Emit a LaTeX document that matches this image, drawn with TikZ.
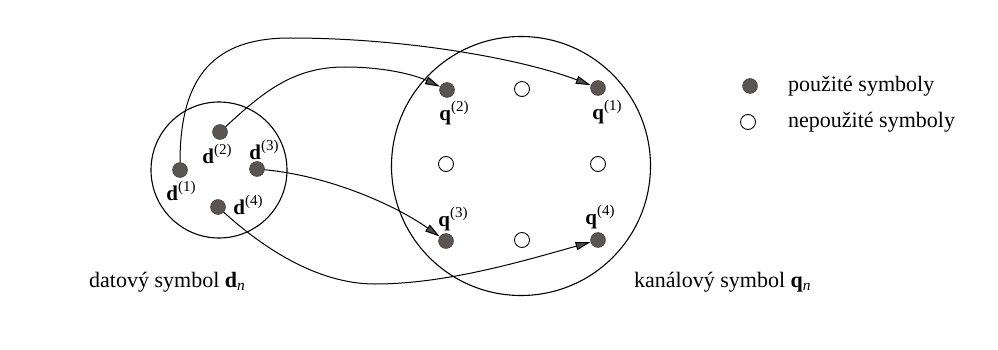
\documentclass[tikz,border=0pt]{standalone}
\usepackage{fontspec}
\setmainfont{Liberation Serif}
\usetikzlibrary{arrows.meta}
\definecolor{dotgray}{HTML}{5A5550}
\newcommand{\symlab}[2]{\textbf{#1}\raisebox{0.42em}{\fontsize{15}{15}\selectfont(#2)}}
\begin{document}
\begin{tikzpicture}[x=1pt,y=-1pt,
  usedot/.style={circle,fill=dotgray,draw=black!80,line width=0.4pt,minimum size=15pt,inner sep=0pt},
  freedot/.style={circle,draw=black,line width=0.9pt,fill=white,minimum size=15pt,inner sep=0pt},
  region/.style={circle,draw=black,line width=1.1pt,inner sep=0pt},
  conn/.style={line width=1pt,-{Triangle[length=15pt,width=8pt,fill=black!70]}},
  lab/.style={font=\fontsize{21}{23}\selectfont,inner sep=0pt},
  txt/.style={font=\fontsize{22}{26}\selectfont,inner sep=0pt,anchor=west}]
\useasboundingbox[fill=white] (0,0) rectangle (998,350);
% regions
\node[region,minimum size=136pt] (L) at (219,170) {};
\node[region,minimum size=259pt] (R) at (521,166) {};
% data symbols
\node[usedot] (d1) at (180,170) {};
\node[usedot] (d2) at (220,132) {};
\node[usedot] (d3) at (257,169) {};
\node[usedot] (d4) at (218,207) {};
% channel symbols
\node[usedot] (q2) at (447,90) {};
\node[freedot] (f1) at (522,89) {};
\node[usedot] (q1) at (598,88) {};
\node[freedot] (f2) at (446,164) {};
\node[freedot] (f3) at (598,164) {};
\node[usedot] (q3) at (446,241) {};
\node[freedot] (f4) at (522,240) {};
\node[usedot] (q4) at (598,240) {};
% labels
\node[lab] (ld1) at (181,191) {\symlab{d}{1}};
\node[lab] (ld2) at (217,154) {\symlab{d}{2}};
\node[lab] (ld3) at (264,150) {\symlab{d}{3}};
\node[lab] (ld4) at (248,205) {\symlab{d}{4}};
\node[lab] (lq2) at (454,113) {\symlab{q}{2}};
\node[lab] (lq1) at (607,112) {\symlab{q}{1}};
\node[lab] (lq3) at (453,219) {\symlab{q}{3}};
\node[lab] (lq4) at (600,217) {\symlab{q}{4}};
% connectors
\draw[conn] (d1.north) .. controls (180,75) and (215,38) .. (290,38) .. controls (410,38) and (525,60) .. (q1);
\draw[conn] (d2) .. controls (265,90) and (295,67) .. (345,67) .. controls (385,67) and (415,75) .. (q2);
\draw[conn] (d3) .. controls (330,176) and (395,205) .. (q3);
\draw[conn] (d4) .. controls (260,245) and (315,284) .. (375,284) .. controls (445,284) and (520,262) .. (q4);
% legend
\node[usedot] (leg1) at (750,86) {};
\node[txt] (legt1) at (788,86) {použité symboly};
\node[freedot] (leg2) at (748,122) {};
\node[txt] (legt2) at (788,122) {nepoužité symboly};
% captions
\node[txt] (dcap) at (89,282) {datový symbol \textbf{d}\textsubscript{\textit{n}}};
\node[txt] (qcap) at (634,282) {kanálový symbol \textbf{q}\textsubscript{\textit{n}}};
\end{tikzpicture}
\end{document}
